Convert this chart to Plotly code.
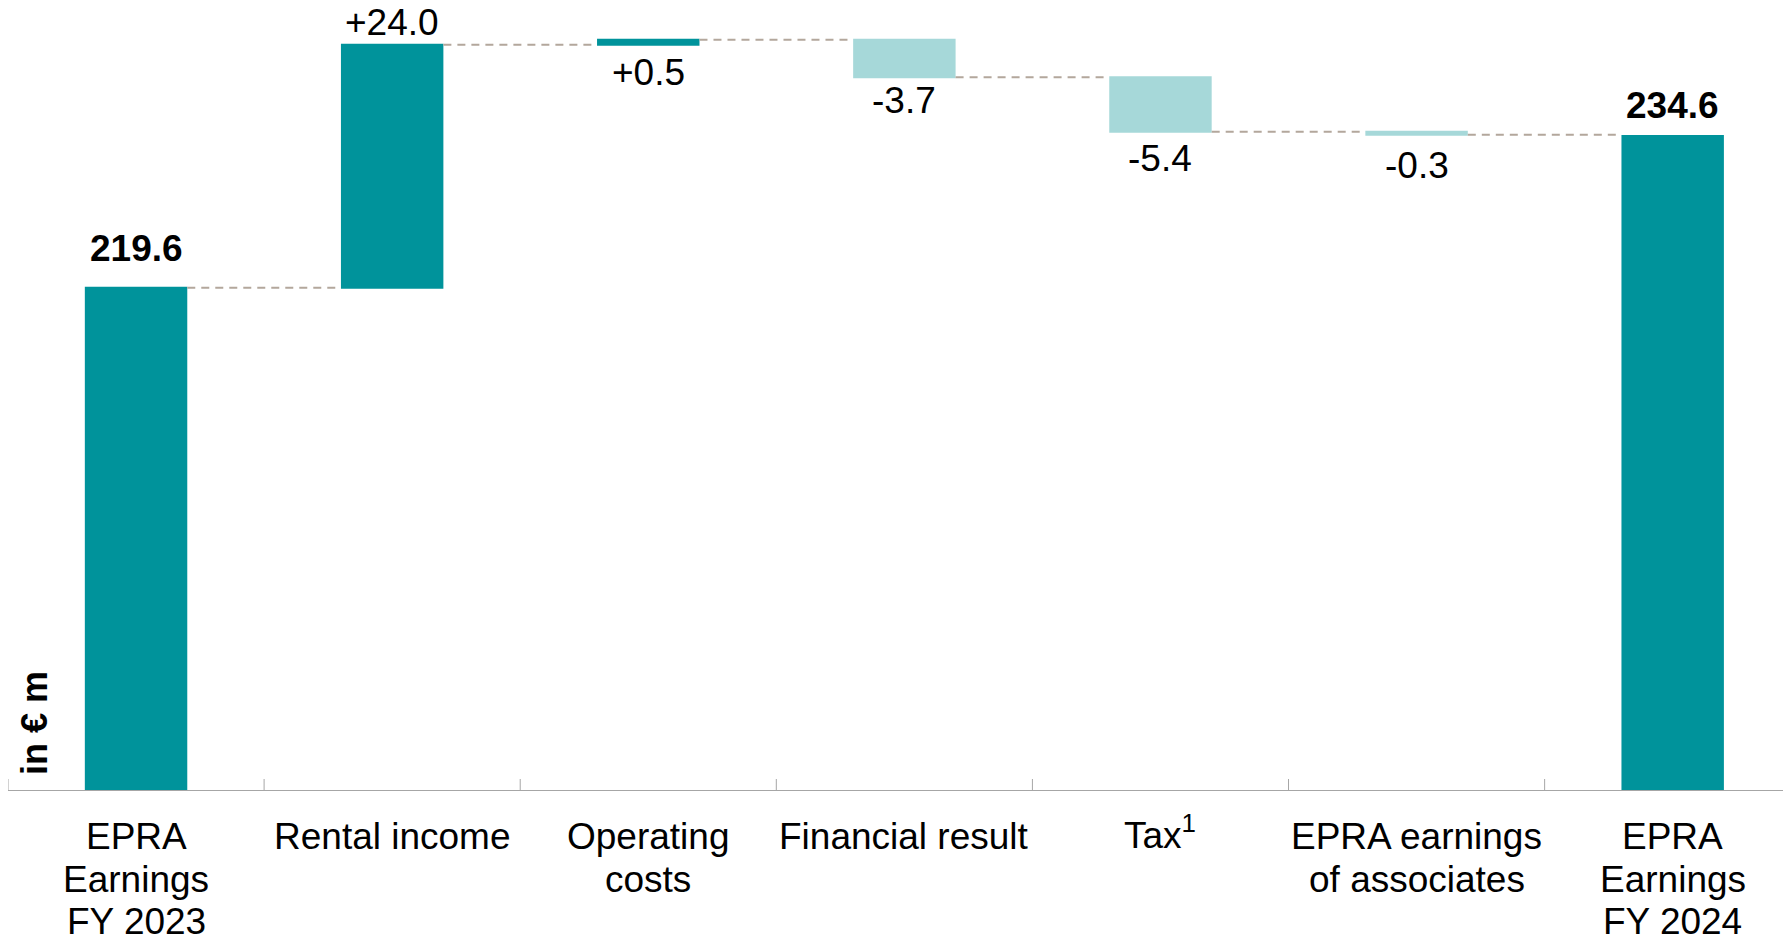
import plotly.graph_objects as go

# ---- data ----
categories = ["EPRA Earnings FY 2023", "Rental income", "Operating costs",
              "Financial result", "Tax", "EPRA earnings of associates",
              "EPRA Earnings FY 2024"]
category_labels = ["EPRA<br>Earnings<br>FY 2023", "Rental income", "Operating<br>costs",
                   "Financial result", "Tax<sup>1</sup>", "EPRA earnings<br>of associates",
                   "EPRA<br>Earnings<br>FY 2024"]
measures = ["absolute", "relative", "relative", "relative", "relative", "relative", "absolute"]
values = [219.6, 24.0, 0.5, -3.7, -5.4, -0.3, 234.6]
value_labels = ["219.6", "+24.0", "+0.5", "-3.7", "-5.4", "-0.3", "234.6"]
axis_label = "in € m"

# ---- style ----
TEAL = "#00939B"
LIGHT = "#A6D8D9"
CONNECTOR = "#B3A79C"
AXIS = "#A6A6A6"
FONT = "Liberation Sans, Arial, sans-serif"
FS = 37
label_side = ["above", "above", "below", "below", "below", "below", "above"]
label_bold = [True, False, False, False, False, False, True]
label_shift = [17, 0, -5, -1, -4, -8, 8]
Y_MIN, Y_MAX = 170, 247.23

fig = go.Figure(go.Waterfall(
    x=categories, y=values, measure=measures,
    increasing=dict(marker=dict(color=TEAL, line=dict(width=0))),
    decreasing=dict(marker=dict(color=LIGHT, line=dict(width=0))),
    totals=dict(marker=dict(color=TEAL, line=dict(width=0))),
    connector=dict(mode="between", line=dict(color=CONNECTOR, width=2, dash="8px,6px")),
    width=0.4, textinfo="none", hoverinfo="skip",
))

# value labels
running = 0.0
for i, (cat, m, v, lab) in enumerate(zip(categories, measures, values, value_labels)):
    if m == "absolute":
        start, end = 0.0, v
    else:
        start, end = running, running + v
    running = end
    if label_side[i] == "above":
        y, anchor = max(start, end), "bottom"
    else:
        y, anchor = min(start, end), "top"
    txt = f"<b>{lab}</b>" if label_bold[i] else lab
    fig.add_annotation(x=cat, y=y, xref="x", yref="y", text=txt, showarrow=False,
                       yanchor=anchor, xanchor="center", yshift=label_shift[i],
                       font=dict(family=FONT, size=FS, color="black"))

# category labels (line by line for tight spacing)
for cat, lab in zip(categories, category_labels):
    for j, line in enumerate(lab.split("<br>")):
        extra = 7 if "<sup>" in line else 0
        fig.add_annotation(x=cat, y=0, xref="x", yref="paper", text=line, showarrow=False,
                           yanchor="top", xanchor="center", yshift=-24 - 42.5 * j + extra,
                           font=dict(family=FONT, size=FS, color="black"))

# crossing tick marks at category boundaries
for i in range(len(categories)):
    fig.add_shape(type="line", xref="x", yref="y", x0=i - 0.5, x1=i - 0.5,
                  ysizemode="pixel", yanchor=Y_MIN, y0=-11, y1=11,
                  line=dict(color=AXIS, width=1))

# unit label
fig.add_annotation(x=-0.5, y=Y_MIN, xref="x", yref="y", text=f"<b>{axis_label}</b>",
                   showarrow=False, textangle=-90, xanchor="center", yanchor="bottom",
                   xshift=26, yshift=13, font=dict(family=FONT, size=36, color="black"))

# page body has an 8px margin, so the figure is 8px smaller in each direction
fig.update_layout(
    width=1783, height=929,
    margin=dict(l=0, r=0, t=0, b=147),
    paper_bgcolor="white", plot_bgcolor="white",
    showlegend=False,
    xaxis=dict(showline=True, linecolor=AXIS, linewidth=1, ticks="", showticklabels=False,
               showgrid=False, zeroline=False, range=[-0.5, 6.462], fixedrange=True),
    yaxis=dict(range=[Y_MIN, Y_MAX], visible=False, showgrid=False, zeroline=False),
)

fig.write_html("out.html")
